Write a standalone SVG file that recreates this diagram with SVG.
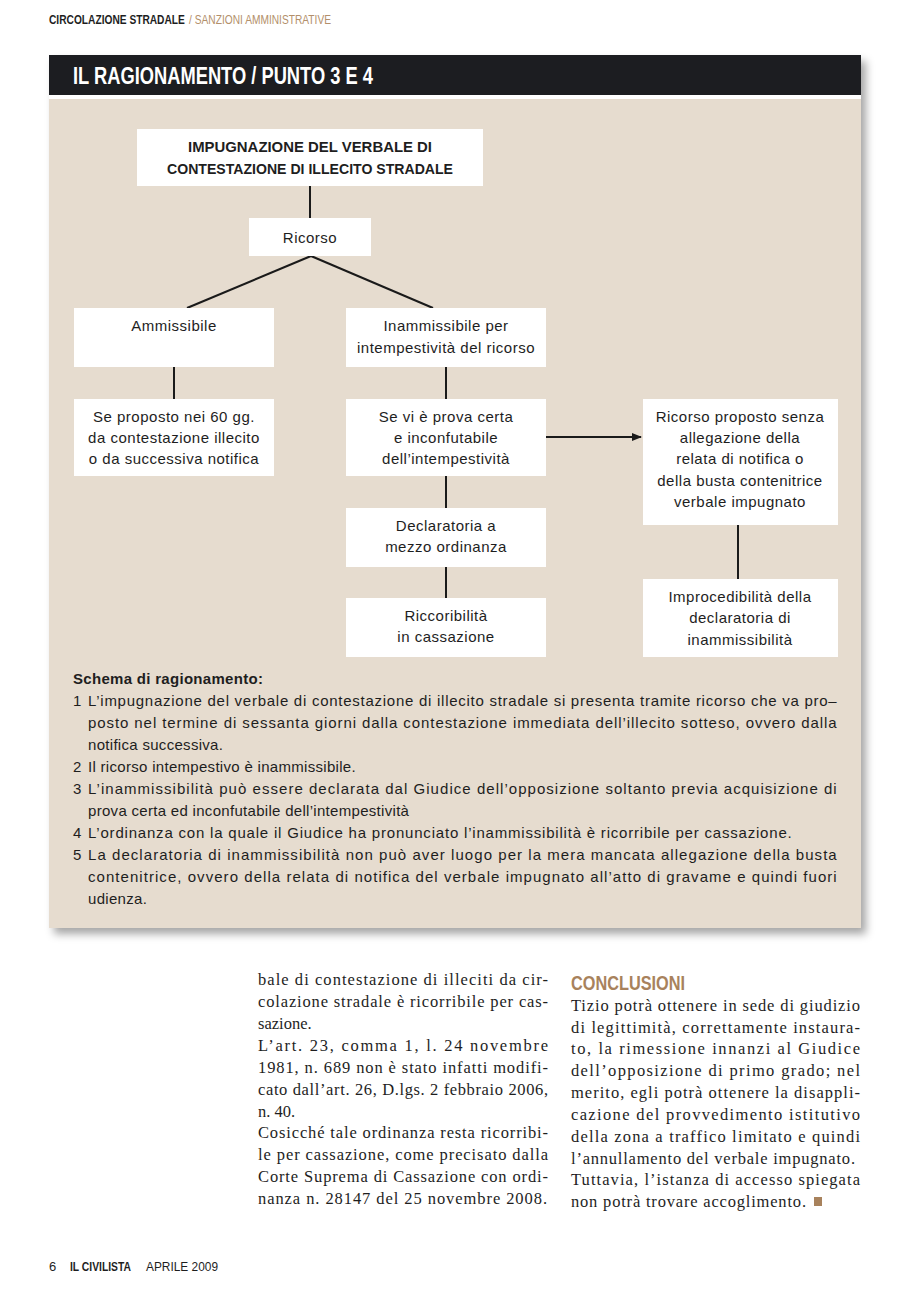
<svg xmlns="http://www.w3.org/2000/svg" width="917" height="1304" viewBox="0 0 917 1304">
<style>
.sans{font-family:"Liberation Sans",Arial,sans-serif;fill:#1e1e1e}
.fc{font-family:"Liberation Sans",Arial,sans-serif;font-size:15px;fill:#1e1e1e;letter-spacing:0.5px;text-anchor:middle}
.box{fill:#ffffff}
.ln{stroke:#1a1a1a;stroke-width:2;fill:none}
.lst{font-family:"Liberation Sans",Arial,sans-serif;font-size:15px;fill:#1e1e1e;letter-spacing:0.3px}
.ser{font-family:"Liberation Serif","Times New Roman",serif;font-size:16.5px;fill:#1e1e1e}
</style>
<defs>
<filter id="sh" x="-5%" y="-5%" width="115%" height="115%">
<feDropShadow dx="5" dy="6" stdDeviation="4" flood-color="#000" flood-opacity="0.35"/>
</filter>
<marker id="arr" viewBox="0 0 10 10" refX="9" refY="5" markerWidth="10" markerHeight="10" markerUnits="userSpaceOnUse" orient="auto">
<path d="M0,1 L10,5 L0,9 z" fill="#1a1a1a"/>
</marker>
</defs>
<rect width="917" height="1304" fill="#ffffff"/>

<!-- running header -->
<text transform="translate(49,24) scale(0.85,1)" class="sans" font-size="12"><tspan font-weight="bold">CIRCOLAZIONE STRADALE</tspan><tspan dx="5" style="fill:#b38f6a">/ SANZIONI AMMINISTRATIVE</tspan></text>

<!-- panel -->
<rect x="49" y="55" width="812" height="873" fill="#ffffff" filter="url(#sh)"/>
<rect x="49" y="55" width="812" height="40" fill="#1c1d21"/>
<rect x="49" y="99" width="812" height="829" fill="#e6dccf"/>
<text x="73" y="84" font-family="Liberation Sans,Arial,sans-serif" font-size="23" font-weight="bold" fill="#ffffff" textLength="300" lengthAdjust="spacingAndGlyphs">IL RAGIONAMENTO / PUNTO 3 E 4</text>

<!-- connectors -->
<g id="connectors">
<line class="ln" x1="310" y1="186" x2="310" y2="218"/>
<line class="ln" x1="311" y1="256" x2="187" y2="308"/>
<line class="ln" x1="311" y1="256" x2="433" y2="308"/>
<line class="ln" x1="174" y1="367" x2="174" y2="399"/>
<line class="ln" x1="446" y1="367" x2="446" y2="399"/>
<line class="ln" x1="546" y1="437" x2="641" y2="437" marker-end="url(#arr)"/>
<line class="ln" x1="446" y1="476" x2="446" y2="508"/>
<line class="ln" x1="446" y1="567" x2="446" y2="598"/>
<line class="ln" x1="738" y1="525" x2="738" y2="579"/>
</g>

<g id="n-impugnazione">
<rect class="box" x="137" y="129" width="346" height="57"/>
<text x="310" y="152" class="sans" font-size="15" font-weight="bold" text-anchor="middle" textLength="244" lengthAdjust="spacingAndGlyphs">IMPUGNAZIONE DEL VERBALE DI</text>
<text x="310" y="174" class="sans" font-size="15" font-weight="bold" text-anchor="middle" textLength="286" lengthAdjust="spacingAndGlyphs">CONTESTAZIONE DI ILLECITO STRADALE</text>
</g>
<g id="n-ricorso">
<rect class="box" x="249" y="218" width="122" height="38"/>
<text x="310" y="243" class="fc">Ricorso</text>
</g>
<g id="n-ammissibile">
<rect class="box" x="74" y="308" width="200" height="59"/>
<text x="174" y="331" class="fc">Ammissibile</text>
</g>
<g id="n-inammissibile">
<rect class="box" x="346" y="308" width="200" height="59"/>
<text x="446" y="331" class="fc">Inammissibile per</text>
<text x="446" y="353" class="fc">intempestività del ricorso</text>
</g>
<g id="n-seproposto">
<rect class="box" x="74" y="399" width="200" height="77"/>
<text x="174" y="422" class="fc">Se proposto nei 60 gg.</text>
<text x="174" y="443" class="fc">da contestazione illecito</text>
<text x="174" y="464" class="fc">o da successiva notifica</text>
</g>
<g id="n-seviprova">
<rect class="box" x="346" y="399" width="200" height="77"/>
<text x="446" y="422" class="fc">Se vi è prova certa</text>
<text x="446" y="443" class="fc">e inconfutabile</text>
<text x="446" y="464" class="fc">dell’intempestività</text>
</g>
<g id="n-senzaallegazione">
<rect class="box" x="643" y="399" width="195" height="126"/>
<text x="740" y="422" class="fc">Ricorso proposto senza</text>
<text x="740" y="443" class="fc">allegazione della</text>
<text x="740" y="464" class="fc">relata di notifica o</text>
<text x="740" y="486" class="fc">della busta contenitrice</text>
<text x="740" y="507" class="fc">verbale impugnato</text>
</g>
<g id="n-declaratoria">
<rect class="box" x="346" y="508" width="200" height="59"/>
<text x="446" y="531" class="fc">Declaratoria a</text>
<text x="446" y="552" class="fc">mezzo ordinanza</text>
</g>
<g id="n-riccoribilita">
<rect class="box" x="346" y="598" width="200" height="59"/>
<text x="446" y="621" class="fc">Riccoribilità</text>
<text x="446" y="642" class="fc">in cassazione</text>
</g>
<g id="n-improcedibilita">
<rect class="box" x="643" y="579" width="195" height="78"/>
<text x="740" y="602" class="fc">Improcedibilità della</text>
<text x="740" y="623" class="fc">declaratoria di</text>
<text x="740" y="645" class="fc">inammissibilità</text>
</g>

<!-- schema list -->
<g id="schema">
<text x="73" y="684" class="lst" font-weight="bold">Schema di ragionamento:</text>
<text x="73" y="706" class="lst">1</text>
<text x="88" y="706" class="lst" textLength="749" lengthAdjust="spacing">L’impugnazione del verbale di contestazione di illecito stradale si presenta tramite ricorso che va pro–</text>
<text x="88" y="728" class="lst" textLength="749" lengthAdjust="spacing">posto nel termine di sessanta giorni dalla contestazione immediata dell’illecito sotteso, ovvero dalla</text>
<text x="88" y="750" class="lst">notifica successiva.</text>
<text x="73" y="772" class="lst">2</text>
<text x="88" y="772" class="lst">Il ricorso intempestivo è inammissibile.</text>
<text x="73" y="794" class="lst">3</text>
<text x="88" y="794" class="lst" textLength="749" lengthAdjust="spacing">L’inammissibilità può essere declarata dal Giudice dell’opposizione soltanto previa acquisizione di</text>
<text x="88" y="816" class="lst">prova certa ed inconfutabile dell’intempestività</text>
<text x="73" y="838" class="lst">4</text>
<text x="88" y="838" class="lst" textLength="704" lengthAdjust="spacing">L’ordinanza con la quale il Giudice ha pronunciato l’inammissibilità è ricorribile per cassazione.</text>
<text x="73" y="860" class="lst">5</text>
<text x="88" y="860" class="lst" textLength="749" lengthAdjust="spacing">La declaratoria di inammissibilità non può aver luogo per la mera mancata allegazione della busta</text>
<text x="88" y="882" class="lst" textLength="749" lengthAdjust="spacing">contenitrice, ovvero della relata di notifica del verbale impugnato all’atto di gravame e quindi fuori</text>
<text x="88" y="904" class="lst">udienza.</text>
</g>

<!-- left column -->
<g id="col-left">
<text x="258" y="985" class="ser" textLength="290" lengthAdjust="spacing">bale di contestazione di illeciti da cir-</text>
<text x="258" y="1007" class="ser" textLength="290" lengthAdjust="spacing">colazione stradale è ricorribile per cas-</text>
<text x="258" y="1029" class="ser">sazione.</text>
<text x="258" y="1051" class="ser" textLength="290" lengthAdjust="spacing">L’art. 23, comma 1, l. 24 novembre</text>
<text x="258" y="1073" class="ser" textLength="290" lengthAdjust="spacing">1981, n. 689 non è stato infatti modifi-</text>
<text x="258" y="1095" class="ser" textLength="290" lengthAdjust="spacing">cato dall’art. 26, D.lgs. 2 febbraio 2006,</text>
<text x="258" y="1117" class="ser">n. 40.</text>
<text x="258" y="1138" class="ser" textLength="290" lengthAdjust="spacing">Cosicché tale ordinanza resta ricorribi-</text>
<text x="258" y="1160" class="ser" textLength="290" lengthAdjust="spacing">le per cassazione, come precisato dalla</text>
<text x="258" y="1182" class="ser" textLength="290" lengthAdjust="spacing">Corte Suprema di Cassazione con ordi-</text>
<text x="258" y="1204" class="ser" textLength="289" lengthAdjust="spacing">nanza n. 28147 del 25 novembre 2008.</text>
</g>

<!-- right column -->
<g id="col-right">
<text x="571" y="990" font-family="Liberation Sans,Arial,sans-serif" font-size="21" font-weight="bold" fill="#a8825c" textLength="114" lengthAdjust="spacingAndGlyphs">CONCLUSIONI</text>
<text x="571" y="1011" class="ser" textLength="289" lengthAdjust="spacing">Tizio potrà ottenere in sede di giudizio</text>
<text x="571" y="1033" class="ser" textLength="289" lengthAdjust="spacing">di legittimità, correttamente instaura-</text>
<text x="571" y="1054" class="ser" textLength="289" lengthAdjust="spacing">to, la rimessione innanzi al Giudice</text>
<text x="571" y="1076" class="ser" textLength="289" lengthAdjust="spacing">dell’opposizione di primo grado; nel</text>
<text x="571" y="1098" class="ser" textLength="289" lengthAdjust="spacing">merito, egli potrà ottenere la disappli-</text>
<text x="571" y="1120" class="ser" textLength="289" lengthAdjust="spacing">cazione del provvedimento istitutivo</text>
<text x="571" y="1142" class="ser" textLength="289" lengthAdjust="spacing">della zona a traffico limitato e quindi</text>
<text x="571" y="1164" class="ser" textLength="284" lengthAdjust="spacing">l’annullamento del verbale impugnato.</text>
<text x="571" y="1185" class="ser" textLength="289" lengthAdjust="spacing">Tuttavia, l’istanza di accesso spiegata</text>
<text x="571" y="1207" class="ser" textLength="235" lengthAdjust="spacing">non potrà trovare accoglimento.</text>
<rect x="814" y="1197" width="8" height="9" fill="#a8825c"/>
</g>

<!-- footer -->
<g id="footer">
<text x="49" y="1271" class="sans" font-size="13">6</text>
<text x="70" y="1271" class="sans" font-size="13" font-weight="bold" textLength="61" lengthAdjust="spacingAndGlyphs">IL CIVILISTA</text>
<text x="146" y="1271" class="sans" font-size="13" textLength="72" lengthAdjust="spacingAndGlyphs">APRILE 2009</text>
</g>
</svg>
